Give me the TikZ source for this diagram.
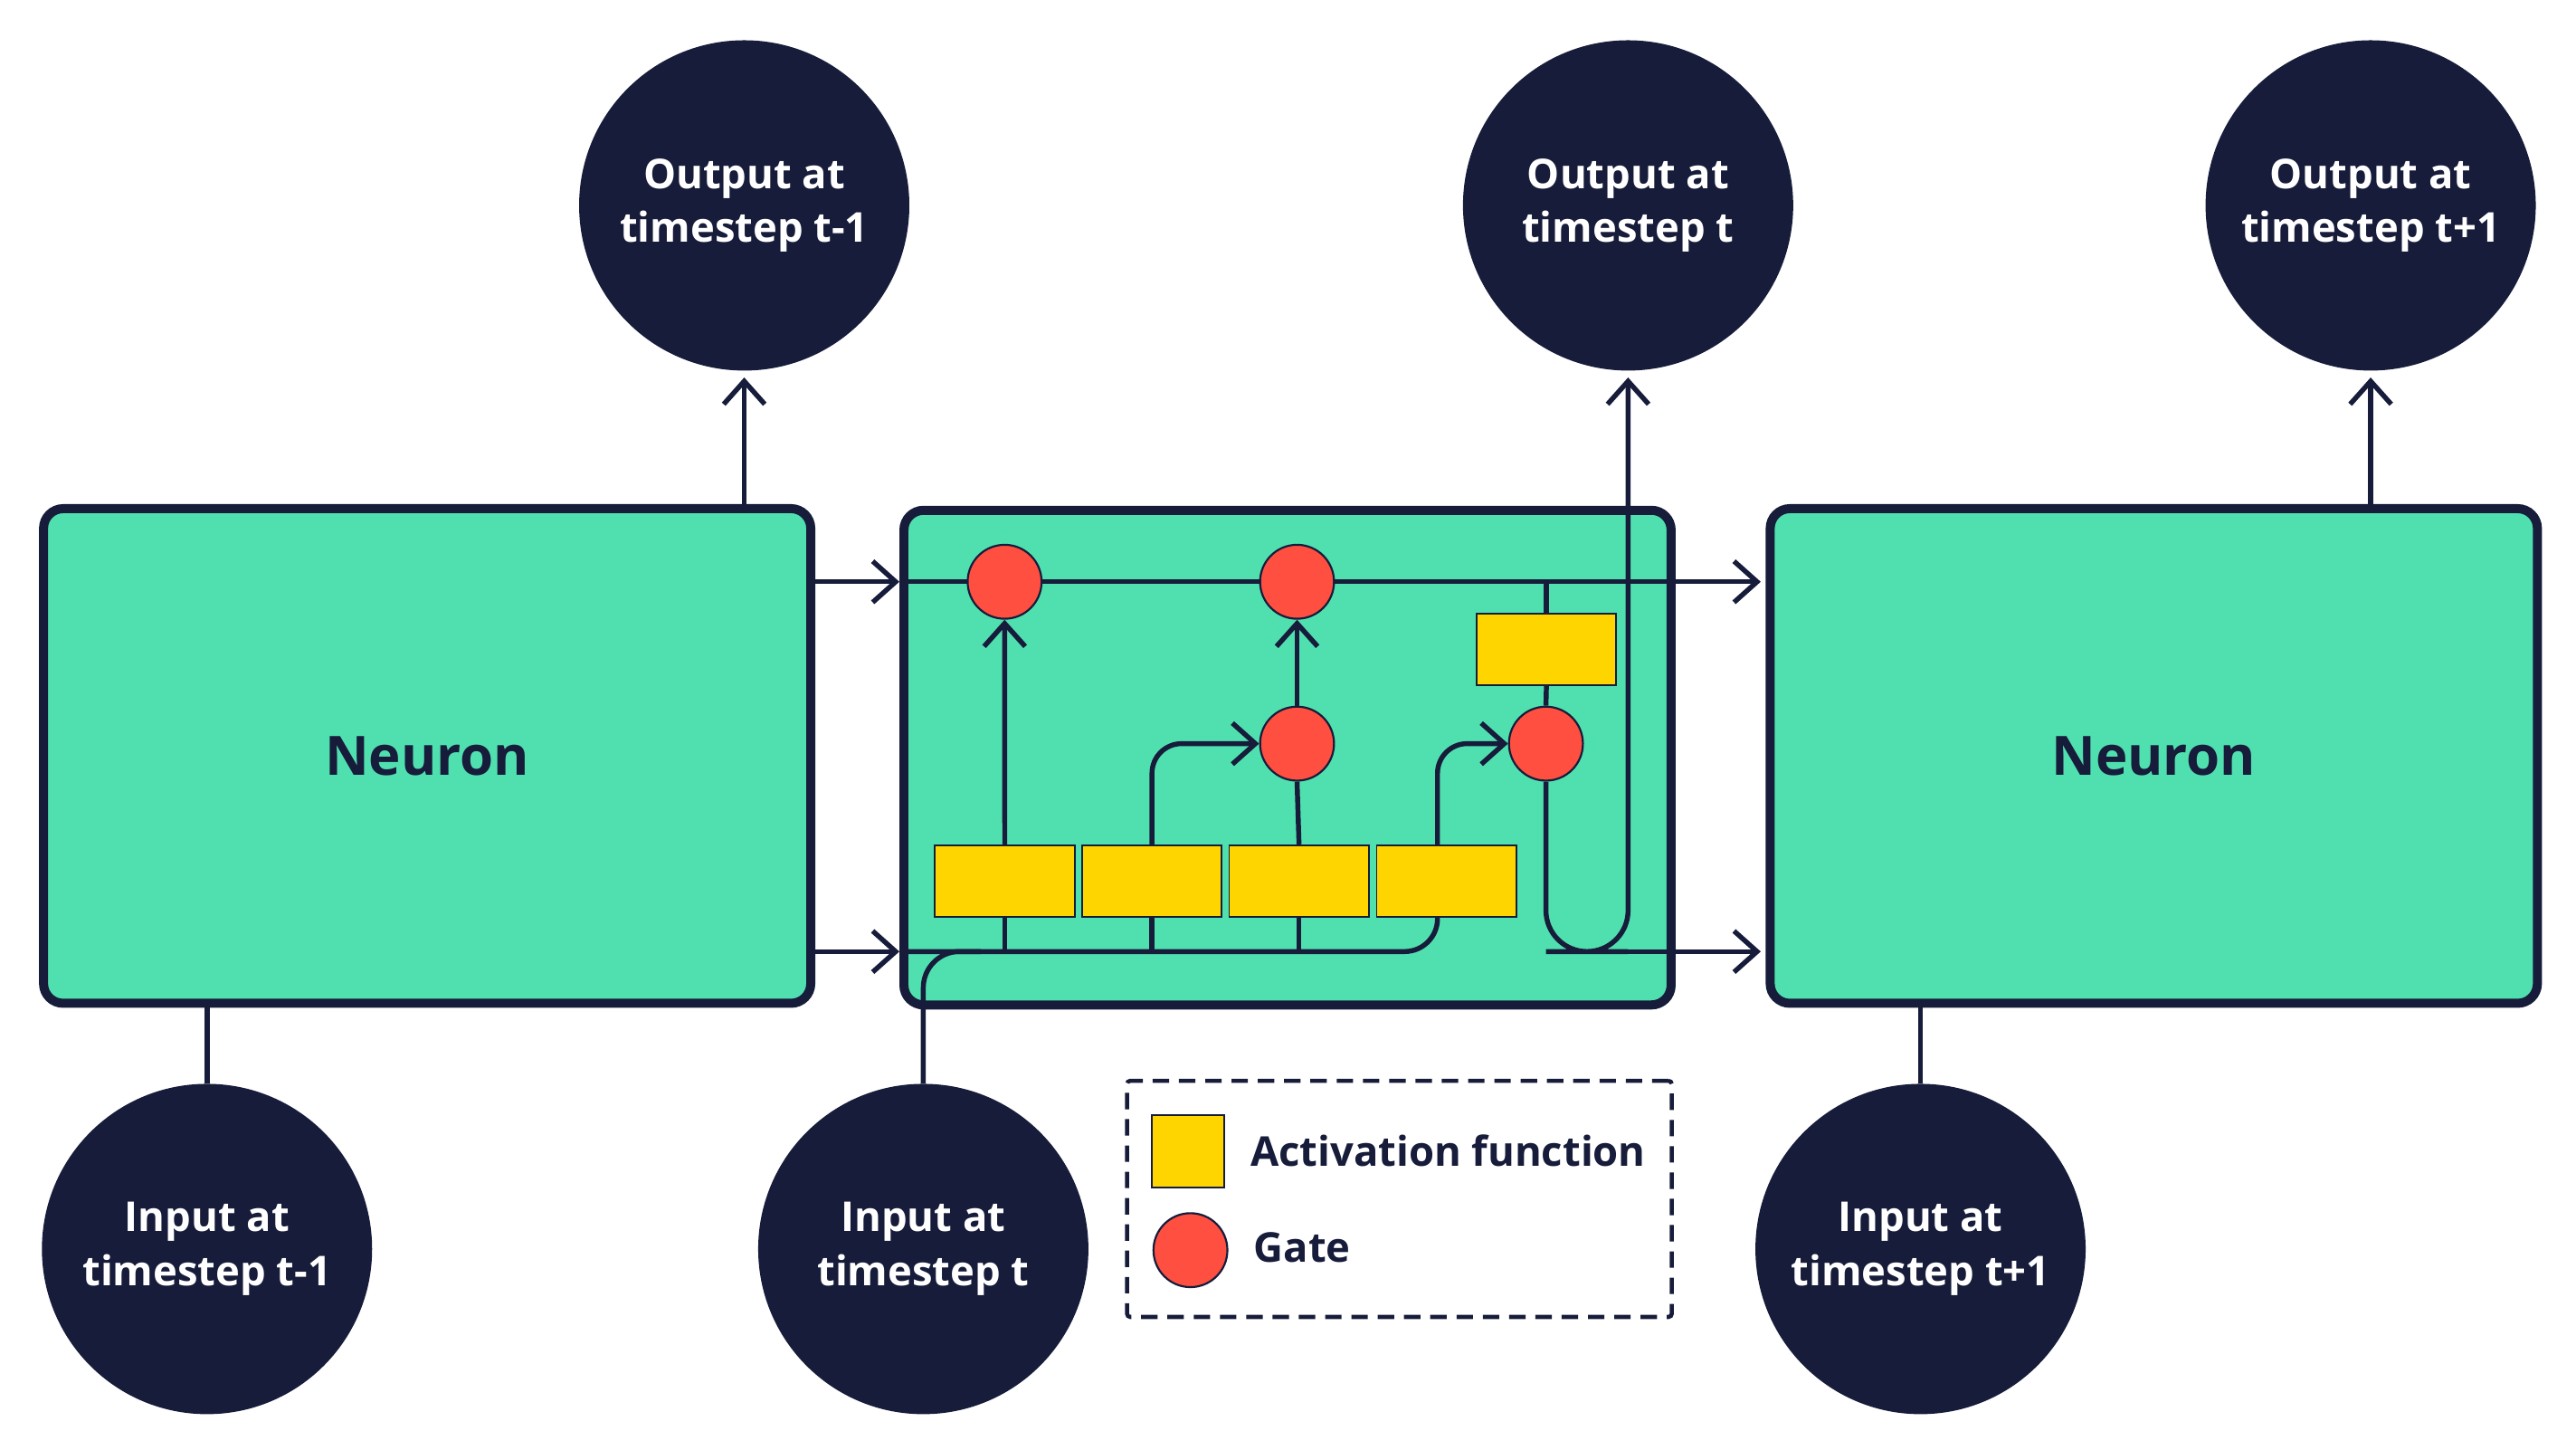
\documentclass[tikz,border=0pt]{standalone}
\usepackage{fontspec}
\setmainfont{Open Sans}
\usetikzlibrary{arrows.meta,calc}
\definecolor{navy}{HTML}{161C3A}
\definecolor{mint}{HTML}{50E0B0}
\definecolor{gold}{HTML}{FFD500}
\definecolor{tomato}{HTML}{FF4F40}
\pgfdeclarelayer{front}
\pgfsetlayers{main,front}
\begin{document}
\begin{tikzpicture}[x=1pt,y=-1pt,
  neuron/.style={draw=navy, line width=5.5pt, fill=mint, rounded corners=12pt, minimum width=467pt, minimum height=301pt, inner sep=0pt, font=\fontsize{33}{40}\selectfont\bfseries, text=navy},
  io/.style={circle, fill=navy, minimum size=201pt, inner sep=0pt, text=white, align=center, font=\fontsize{25}{33}\selectfont\bfseries},
  gate/.style={circle, draw=navy, line width=1.2pt, fill=tomato, minimum size=45pt, inner sep=0pt},
  act/.style={rectangle, draw=navy, line width=1pt, fill=gold, minimum width=85pt, minimum height=43.5pt, inner sep=0pt},
  wire/.style={draw=navy, line width=3pt},
  arr/.style={wire, -{Straight Barb[length=14pt,width=25pt,line width=3pt]}},
  legtext/.style={anchor=west, inner sep=0pt, text=navy, font=\fontsize{25}{32}\selectfont\bfseries},
]
\useasboundingbox (0,0) rectangle (1568,882);

% neurons
\node[neuron] (left) at (260,460) {Neuron};
\node[neuron] (mid) at (783.7,461) {};
\node[neuron] (right) at (1311,460) {Neuron};

% io circles
\node[io] (outL) at (453,125) {Output at\\timestep t-1};
\node[io] (outM) at (991,125) {Output at\\timestep t};
\node[io] (outR) at (1443,125) {Output at\\timestep t+1};
\node[io] (inL) at (126,760) {Input at\\timestep t-1};
\node[io] (inM) at (562,760) {Input at\\timestep t};
\node[io] (inR) at (1169,760) {Input at\\timestep t+1};

% gates and activations (front layer)
\begin{pgfonlayer}{front}
\node[gate] (g1) at (611.5,354) {};
\node[gate] (g2) at (789.5,354) {};
\node[gate] (g3) at (789.5,452.5) {};
\node[gate] (g4) at (941,452.5) {};
\node[act] (a1) at (611.6,536) {};
\node[act] (a2) at (701.2,536) {};
\node[act] (a3) at (790.7,536) {};
\node[act] (a4) at (880.5,536) {};
\node[act] (atop) at (941.3,395) {};
\end{pgfonlayer}

\coordinate (yb) at (0,579);
\coordinate (a4t) at ([xshift=-5.5pt]a4.north);
\coordinate (a4b) at ([xshift=-5.5pt]a4.south);
\coordinate (ub) at (966,579);

% wires between neurons
\draw[arr] (left.east |- g1) -- (mid.west |- g1);
\draw[arr] (left.east |- yb) -- (mid.west |- yb);
\draw[arr, shorten >=3pt] (mid.west |- g1) -- (right.west |- g1);
\draw[wire, rounded corners=20pt] (mid.west |- yb) -| (a4b);
\draw[wire, rounded corners=22pt] (inM.north) |- ($(inM.north |- yb)+(35,0)$);

% outputs / inputs of side neurons
\draw[arr, shorten >=4pt] (left.north -| outL) -- (outL.south);
\draw[arr, shorten >=4pt] (right.north -| outR) -- (outR.south);
\draw[wire] (inL.north) -- (inL.north |- left.south);
\draw[wire] (inR.north) -- (inR.north |- right.south);

% inner cell
\draw[wire] (a1.south) -- (a1.south |- yb);
\draw[arr] (a1.north) -- (g1.south);
\draw[wire] (a2.south) -- (a2.south |- yb);
\draw[arr, rounded corners=18pt] (a2.north) |- (g3.west);
\draw[wire] (a3.south) -- (a3.south |- yb);
\draw[wire] (a3.north) -- (g3.south);
\draw[arr] (g3.north) -- (g2.south);
\draw[arr, rounded corners=18pt] (a4t) |- (g4.west);
\draw[wire] (atop.north) -- (atop.north |- g1);
\draw[wire] (atop.south) -- (g4.north);
\draw[arr, rounded corners=25pt, shorten >=4pt] (g4.south) |- (ub) -| (outM.south);
\draw[arr, shorten >=3pt] (ub) -- (right.west |- yb);

% legend
\node[draw=navy, line width=2.5pt, dash pattern=on 10pt off 6pt, rounded corners=2pt, minimum width=331.6pt, minimum height=143.7pt, inner sep=0pt] (legend) at (851.8,729.5) {};
\node[act, minimum width=44pt, minimum height=44pt] (lact) at (723,700.7) {};
\node[gate] (lgate) at (724.6,760.7) {};
\node[legtext] (lacttext) at (761,700) {Activation function};
\node[legtext] (lgatetext) at (763,759) {Gate};
\end{tikzpicture}
\end{document}
